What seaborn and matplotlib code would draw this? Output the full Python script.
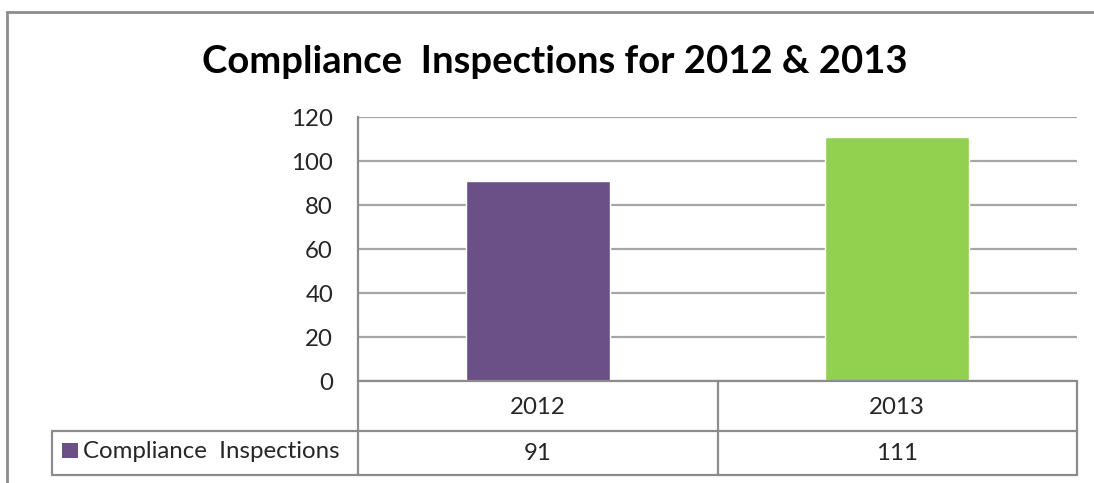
import matplotlib
matplotlib.use("Agg")
import matplotlib.pyplot as plt
import seaborn as sns
import pandas as pd
from matplotlib.lines import Line2D
from matplotlib.patches import Rectangle

title = "Compliance  Inspections for 2012 & 2013"
series_name = "Compliance  Inspections"
years = ["2012", "2013"]
values = [91, 111]
colors = ["#6A5086", "#92D050"]
yticks = [0, 20, 40, 60, 80, 100, 120]

sns.set_theme(style="white")
plt.rcParams["font.family"] = ["Lato", "DejaVu Sans"]

W, H = 1094, 483
fig = plt.figure(figsize=(W / 100, H / 100), dpi=100)

def fx(px):
    return px / W

def fy(py):
    return 1 - py / H

FS = 17.3
L, R, T, B = 358, 1077, 117, 381
ax = fig.add_axes([fx(L), fy(B), fx(R) - fx(L), fy(T) - fy(B)])

df = pd.DataFrame({"year": years, "value": values})
sns.barplot(data=df, x="year", y="value", hue="year", palette=colors,
            width=0.4, legend=False, ax=ax, saturation=1)
ax.set_xlim(-0.5, 1.5)
ax.set_ylim(0, 120)
ax.set_yticks(yticks)
ax.set_yticklabels([str(t) for t in yticks], fontsize=FS)
ax.tick_params(axis="y", length=0, pad=18)
ax.set_xticks([])
ax.set_xlabel("")
ax.set_ylabel("")
ax.yaxis.grid(True, color="#a6a6a6", linewidth=1.6)
ax.set_axisbelow(True)
for s in ["top", "right", "bottom"]:
    ax.spines[s].set_visible(False)
ax.spines["left"].set_color("#8c8c8c")
ax.spines["left"].set_linewidth(1.6)

# outer chart border
fig.add_artist(Rectangle((fx(7), fy(490)), fx(1100) - fx(7), fy(12) - fy(490),
                         transform=fig.transFigure, fill=False,
                         edgecolor="#8c8c8c", linewidth=2))

# title
fig.text(fx(555), fy(73), title, ha="center", va="baseline",
         fontsize=27.5, fontweight="bold", color="black")

# data table
lc = "#8c8c8c"
lw = 1.6
def hline(x0, x1, y):
    fig.add_artist(Line2D([fx(x0), fx(x1)], [fy(y), fy(y)], transform=fig.transFigure,
                          color=lc, linewidth=lw))
def vline(x, y0, y1):
    fig.add_artist(Line2D([fx(x), fx(x)], [fy(y0), fy(y1)], transform=fig.transFigure,
                          color=lc, linewidth=lw))

row_mid, row_bot = 431, 475
hline(L, R, B)
hline(52, R, row_mid)
hline(52, R, row_bot)
vline(52, row_mid, row_bot)
vline(L, B, row_bot)
col_div = (L + R) / 2
vline(col_div, B, row_bot)
vline(R, B, row_bot)

for i, (yr, v) in enumerate(zip(years, values)):
    cx = ax.transData.transform((i, 0))[0]
    cxf = cx / W
    fig.text(cxf, fy((B + row_mid) / 2 + 1), yr, ha="center", va="center", fontsize=FS)
    fig.text(cxf, fy((row_mid + row_bot) / 2 + 1), str(v), ha="center", va="center", fontsize=FS)

fig.add_artist(Rectangle((fx(62), fy(458)), fx(78) - fx(62), fy(443) - fy(458),
                         transform=fig.transFigure, facecolor=colors[0], edgecolor="none"))
fig.text(fx(83), fy(452), series_name, ha="left", va="center", fontsize=FS)

fig.savefig("out.png", dpi=100)
